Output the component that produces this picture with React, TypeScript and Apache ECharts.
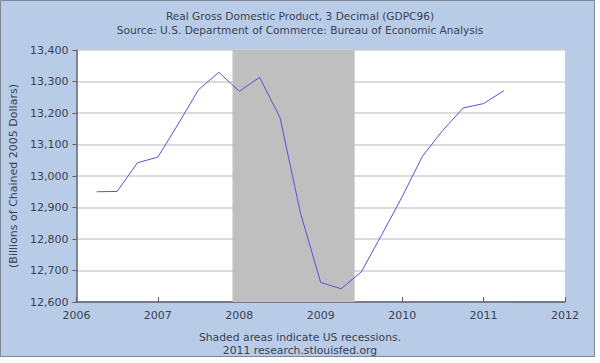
import React, { useEffect, useRef } from "react";
import * as echarts from "echarts";

const quarters = [
  "2006-04", "2006-07", "2006-10",
  "2007-01", "2007-04", "2007-07", "2007-10",
  "2008-01", "2008-04", "2008-07", "2008-10",
  "2009-01", "2009-04", "2009-07", "2009-10",
  "2010-01", "2010-04", "2010-07", "2010-10",
  "2011-01", "2011-04",
];
const gdpValues = [
  12950, 12951, 13042,
  13060, 13165, 13274, 13329,
  13269, 13313, 13186, 12884,
  12662, 12642, 12696, 12814,
  12934, 13063, 13145, 13216,
  13230, 13271,
];
const recessionStart = 2007 + 11 / 12;
const recessionEnd = 2009 + 5 / 12;
const yTicks = [12600, 12700, 12800, 12900, 13000, 13100, 13200, 13300, 13400];
const xYears = [2006, 2007, 2008, 2009, 2010, 2011, 2012];
const titleLines = [
  "Real Gross Domestic Product, 3 Decimal (GDPC96)",
  "Source: U.S. Department of Commerce: Bureau of Economic Analysis",
];
const footerLines = [
  "Shaded areas indicate US recessions.",
  "2011 research.stlouisfed.org",
];

const toYear = (q: string) => {
  const [y, m] = q.split("-").map(Number);
  return y + (m - 1) / 12;
};

export default function App() {
  const ref = useRef<HTMLDivElement>(null);
  useEffect(() => {
    document.body.style.margin = "0";
    const chart = echarts.init(ref.current!, null, { renderer: "svg" });
    const font = "DejaVu Sans";
    const textColor = "#3a4152";
    const textEl = (text: string, top: number, size: number) => ({
      type: "text",
      left: "center",
      top,
      style: { text, fontFamily: font, fontSize: size, fill: textColor },
    });
    chart.setOption({
      animation: false,
      textStyle: { fontFamily: font },
      graphic: [
        {
          type: "rect",
          z: -10,
          shape: { x: 0.5, y: 0.5, width: 594, height: 356 },
          style: { fill: "#b9cce7", stroke: "#7d8796", lineWidth: 1 },
          silent: true,
        },
        textEl(titleLines[0], 10, 10.6),
        textEl(titleLines[1], 24, 10.6),
        textEl(footerLines[0], 332, 10.8),
        textEl(footerLines[1], 345, 10.8),
      ],
      grid: {
        left: 70,
        top: 50,
        width: 495,
        height: 252,
        show: true,
        backgroundColor: "#ffffff",
        borderWidth: 0,
      },
      xAxis: {
        type: "value",
        min: xYears[0],
        max: xYears[xYears.length - 1],
        interval: 1,
        axisLine: { show: true, onZero: false, lineStyle: { color: "#5a5f6a", width: 1.5 } },
        axisTick: { show: true, inside: true, length: 5, lineStyle: { color: "#5a5f6a" } },
        splitLine: { show: false },
        axisLabel: {
          color: textColor,
          fontSize: 11,
          fontFamily: font,
          margin: 8,
          formatter: (v: number) => String(v),
        },
      },
      yAxis: {
        type: "value",
        min: yTicks[0],
        max: yTicks[yTicks.length - 1],
        interval: 100,
        name: "(Billions of Chained 2005 Dollars)",
        nameLocation: "middle",
        nameGap: 52,
        nameTextStyle: { color: textColor, fontSize: 11, fontFamily: font },
        axisLine: { show: true, lineStyle: { color: "#5a5f6a", width: 1.5 } },
        axisTick: { show: true, inside: false, length: 4, lineStyle: { color: "#5a5f6a" } },
        splitLine: { show: true, lineStyle: { color: "#cfcfcf", width: 1.5 } },
        axisLabel: {
          color: textColor,
          fontSize: 11,
          fontFamily: font,
          margin: 8,
          formatter: (v: number) => v.toLocaleString("en-US"),
        },
      },
      series: [
        {
          type: "line",
          data: quarters.map((q, i) => [toYear(q), gdpValues[i]]),
          showSymbol: false,
          lineStyle: { color: "#5c50dc", width: 1 },
          markArea: {
            silent: true,
            itemStyle: { color: "#bfbfbf" },
            data: [[{ xAxis: recessionStart }, { xAxis: recessionEnd }]],
          },
        },
      ],
    });
    return () => chart.dispose();
  }, []);
  return <div ref={ref} style={{ width: 600, height: 363 }} />;
}
